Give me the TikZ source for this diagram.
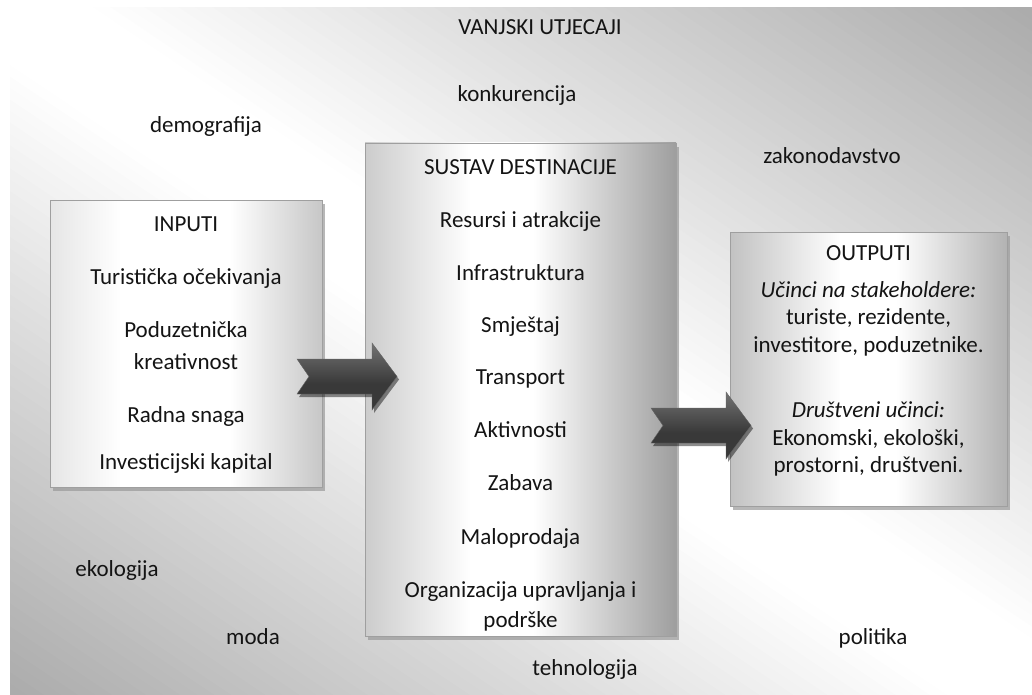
\documentclass[tikz,border=0pt]{standalone}
\usepackage{fontspec}
\setmainfont{Carlito}
\usetikzlibrary{shadows}
\definecolor{inL}{gray}{0.90}
\definecolor{inR}{gray}{0.78}
\definecolor{suL}{gray}{0.80}
\definecolor{suR}{gray}{0.62}
\definecolor{ouL}{gray}{0.76}
\definecolor{ouR}{gray}{0.70}
\definecolor{arrT}{gray}{0.45}
\definecolor{arrB}{gray}{0.22}
\pgfdeclarehorizontalshading{inshade}{100bp}{color(0bp)=(inL); color(25bp)=(inL); color(38bp)=(white); color(58bp)=(white); color(75bp)=(inR); color(100bp)=(inR)}
\pgfdeclarehorizontalshading{sushade}{100bp}{color(0bp)=(suL); color(25bp)=(suL); color(42bp)=(white); color(52bp)=(white); color(75bp)=(suR); color(100bp)=(suR)}
\pgfdeclarehorizontalshading{oushade}{100bp}{color(0bp)=(ouL); color(25bp)=(ouL); color(45bp)=(white); color(55bp)=(white); color(75bp)=(ouR); color(100bp)=(ouR)}
\pgfdeclareverticalshading{arrshade}{100bp}{color(0bp)=(arrB); color(25bp)=(arrB); color(45bp)=(gray!45!black); color(75bp)=(arrT); color(100bp)=(arrT)}
\tikzset{
  txt/.style={font=\fontsize{23}{27.5}\selectfont, inner sep=0pt, anchor=base, text=black!92},
  box/.style={draw=gray!75, line width=0.9pt, inner sep=0pt,
    drop shadow={shadow xshift=3pt, shadow yshift=-4pt, fill=gray!80, opacity=0.7}},
  blockarrow/.style={shading=arrshade, draw=black!60, line width=0.4pt,
    drop shadow={shadow xshift=2pt, shadow yshift=-3pt, fill=black, opacity=0.45}}
}
\begin{document}
\begin{tikzpicture}[x=1pt,y=-1pt]
\useasboundingbox (0,0) rectangle (1032,695);
% background: diagonal gradient, grey at the top-right and bottom-left corners
\begin{scope}
\clip (10,8) rectangle (1032,695);
\foreach \i in {0,...,119}{
  \pgfmathsetmacro{\sa}{\i/120}
  \pgfmathsetmacro{\sb}{(\i+1.4)/120}
  \pgfmathsetmacro{\sm}{(\i+0.5)/120}
  \pgfmathsetmacro{\dd}{max(0,(abs(\sm-0.5)*2-0.08)/0.92)}
  \pgfmathsetmacro{\gl}{1-0.33*\dd}
  \definecolor{bgtmp}{gray}{\gl}
  \fill[bgtmp] ({10+1022*\sa-1022},{695-687*\sa-687}) -- ({10+1022*\sa+1022},{695-687*\sa+687})
     -- ({10+1022*\sb+1022},{695-687*\sb+687}) -- ({10+1022*\sb-1022},{695-687*\sb-687}) -- cycle;
}
\end{scope}

% boxes
\node[box, shading=inshade, minimum width=272pt, minimum height=287pt] (inb) at (186,343.5) {};
\node[box, shading=sushade, minimum width=311pt, minimum height=493pt] (sub) at (520.5,389.5) {};
\node[box, shading=oushade, minimum width=277pt, minimum height=274pt] (oub) at (868.5,369) {};

% block arrows
\coordinate (a1) at (297,376.5);
\coordinate (a2) at (651,425.5);
\foreach \c in {a1,a2}{
  \shade[blockarrow] ([shift={(0,-17.5)}]\c) -- ++(75,0) -- ++(0,-16) -- ++(25,33.5) -- ++(-25,33.5) -- ++(0,-16) -- ++(-75,0) -- ++(12,-17.5) -- cycle;
}

% outside texts
\node[txt] (vu) at (540,34.5) {VANJSKI UTJECAJI};
\node[txt] (kon) at (517,102) {konkurencija};
\node[txt] (dem) at (206,133) {demografija};
\node[txt] (zak) at (832,164) {zakonodavstvo};
\node[txt] (eko) at (117,576.5) {ekologija};
\node[txt] (mod) at (253,644.5) {moda};
\node[txt] (pol) at (873,644.5) {politika};
\node[txt] (teh) at (585,675.5) {tehnologija};

% inputs
\node[txt] (i0) at (186,231.5) {INPUTI};
\node[txt] (i1) at (186,284.5) {Turistička očekivanja};
\node[txt] (i2) at (186,337.5) {Poduzetnička};
\node[txt] (i3) at (186,369.5) {kreativnost};
\node[txt] (i4) at (186,422.5) {Radna snaga};
\node[txt] (i5) at (186,469.5) {Investicijski kapital};

% system
\node[txt] (s0) at (520.5,174.5) {SUSTAV DESTINACIJE};
\node[txt] (s1) at (520.5,227.5) {Resursi i atrakcije};
\node[txt] (s2) at (520.5,280.5) {Infrastruktura};
\node[txt] (s3) at (520.5,332.5) {Smještaj};
\node[txt] (s4) at (520.5,384.5) {Transport};
\node[txt] (s5) at (520.5,437.5) {Aktivnosti};
\node[txt] (s6) at (520.5,490.5) {Zabava};
\node[txt] (s7) at (520.5,544.5) {Maloprodaja};
\node[txt] (s8) at (520.5,597.5) {Organizacija upravljanja i};
\node[txt] (s9) at (520.5,627.5) {podrške};

% outputs
\node[txt] (o0) at (868.5,260.5) {OUTPUTI};
\node[txt] (o1) at (868.5,297.5) {\itshape Učinci na stakeholdere:};
\node[txt] (o2) at (868.5,324.5) {turiste, rezidente,};
\node[txt] (o3) at (868.5,352.5) {investitore, poduzetnike.};
\node[txt] (o4) at (868.5,417.5) {\itshape Društveni učinci:};
\node[txt] (o5) at (868.5,445.5) {Ekonomski, ekološki,};
\node[txt] (o6) at (868.5,472.5) {prostorni, društveni.};
\end{tikzpicture}
\end{document}
